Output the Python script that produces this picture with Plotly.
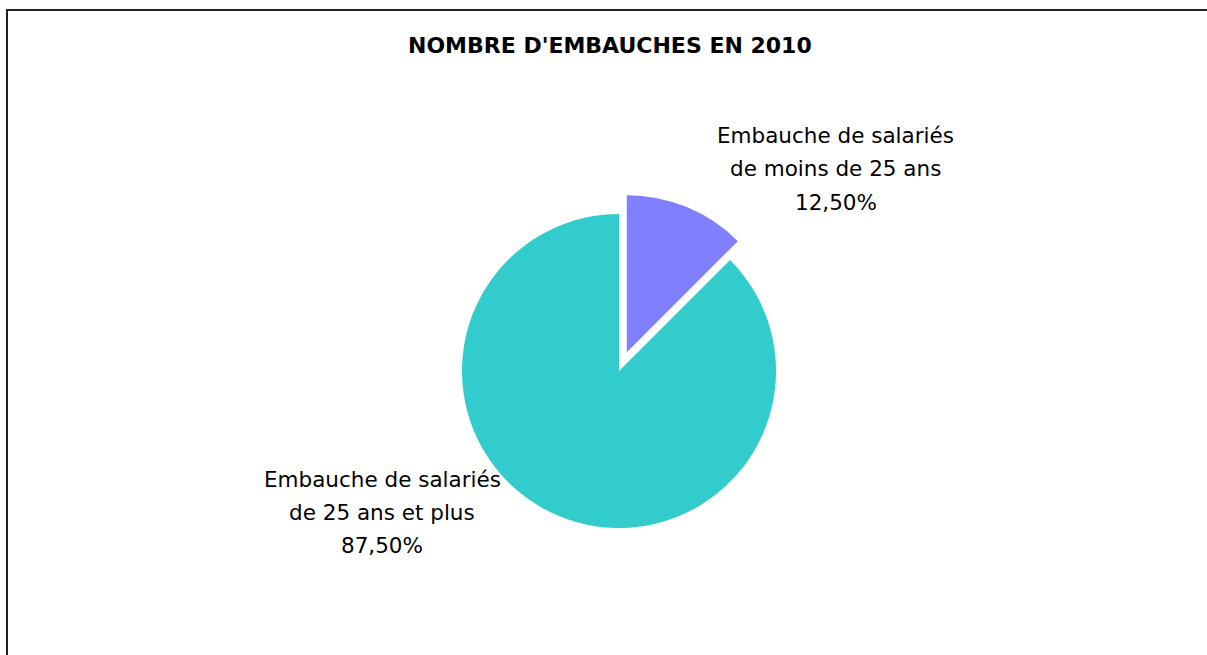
import plotly.graph_objects as go

title = "NOMBRE D'EMBAUCHES EN 2010"
labels = ["Embauche de salariés de moins de 25 ans", "Embauche de salariés de 25 ans et plus"]
label_lines = [["Embauche de salariés", "de moins de 25 ans"], ["Embauche de salariés", "de 25 ans et plus"]]
values = [12.5, 87.5]
colors = ["#8080FF", "#33CCCC"]
pulls = [0.13, 0]

W, H = 1207, 655


def X(px):
    return px / W


def Y(py):
    return 1 - py / H


total = sum(values)
pct_text = [f"{v / total * 100:.2f}%".replace(".", ",") for v in values]

# pie geometry (pixels)
cx, cy_page, r = 619, 371, 157
half = r * (1 + max(pulls))

fig = go.Figure(go.Pie(
    labels=labels, values=values, sort=False, direction="clockwise", rotation=0,
    marker=dict(colors=colors, line=dict(width=0)), pull=pulls,
    textinfo="none", hoverinfo="label+percent", showlegend=False,
    domain=dict(x=[X(cx - half), X(cx + half)], y=[Y(cy_page + half), Y(cy_page - half)]),
))

annotations = [dict(text=f"<b>{title}</b>", x=X(610), y=Y(45), xref="paper", yref="paper",
                    showarrow=False, xanchor="center", yanchor="middle",
                    font=dict(family="DejaVu Sans", size=22, color="#000000"))]
label_pos = [(836, 136), (382, 479)]
for i, (px, py) in enumerate(label_pos):
    lines = label_lines[i] + [pct_text[i]]
    for j, ln in enumerate(lines):
        annotations.append(dict(text=ln, x=X(px), y=Y(py + 33 * j), xref="paper", yref="paper",
                                showarrow=False, xanchor="center", yanchor="middle",
                                font=dict(family="DejaVu Sans", size=21.5, color="#000000")))

fig.update_layout(
    width=W, height=H, margin=dict(l=0, r=0, t=0, b=0),
    paper_bgcolor="white", plot_bgcolor="white",
    annotations=annotations,
    shapes=[dict(type="rect", xref="paper", yref="paper", x0=X(7), x1=X(1230), y0=-0.1, y1=Y(10),
                 line=dict(color="#222222", width=2), fillcolor="rgba(0,0,0,0)")],
)
fig.write_html("out.html", config={"displayModeBar": False},
               post_script="document.body.style.margin='0';document.body.style.overflow='hidden';")
